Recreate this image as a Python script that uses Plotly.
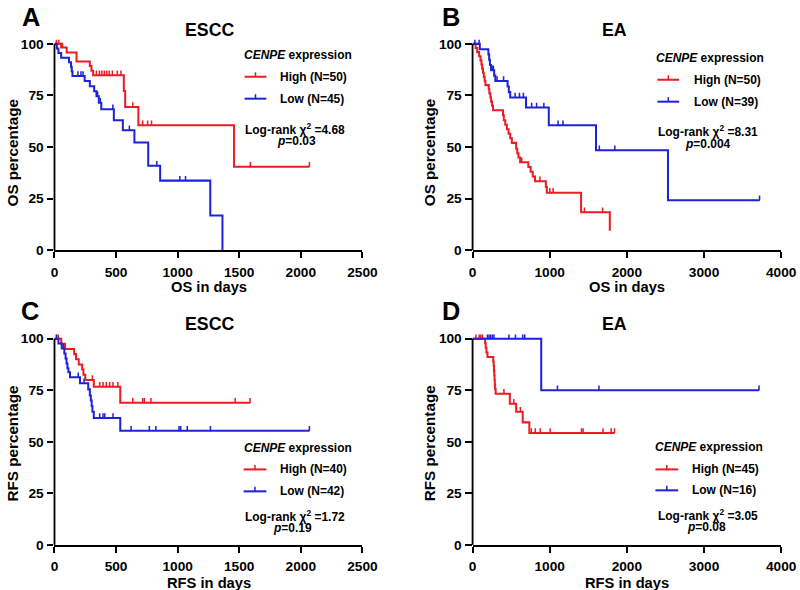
import numpy as np
import plotly.graph_objects as go

RED = '#ec1c24'
BLUE = '#1f23d8'
FONT = 'Liberation Sans, Arial, Helvetica, sans-serif'

# ---------------- data ----------------
# Panel A : ESCC, overall survival
a_hi_t = [0, 54, 99, 179, 287, 300, 314, 563, 574, 681, 1458]
a_hi_s = [100, 98.2, 95.8, 91.5, 89.3, 87.0, 84.8, 77.1, 69.4, 60.6, 40.4]
a_hi_c = [15, 35, 65, 340, 365, 385, 405, 425, 445, 470, 510, 540, 636, 716, 756, 788, 1590, 2070]
a_lo_t = [0, 19, 32, 54, 118, 134, 140, 146, 245, 287, 322, 341, 360, 380, 482, 555, 649, 761, 858, 1265, 1364]
a_lo_s = [100, 97.8, 95.6, 93.3, 91.1, 88.9, 86.7, 84.4, 82.0, 79.5, 77.0, 74.6, 71.5, 68.3, 63.0, 58.1, 52.2, 40.9, 33.7, 16.8, 0]
a_lo_c = [190, 215, 232, 350, 372, 474, 608, 831, 1018, 1064]

# Panel B : EA, overall survival
b_hi_t = [0, 40, 60, 85, 103, 115, 124, 135, 146, 157, 167, 210, 218, 231, 240, 253, 265, 394, 405, 424,
          445, 467, 488, 509, 565, 580, 595, 616, 723, 753, 780, 809, 950, 963, 1407, 1779]
b_hi_s = [100, 98, 96, 94, 92, 90, 88, 86, 84, 82, 80, 78, 76, 74, 72, 70, 67.8, 65.4, 63.0, 60.8,
          58.6, 56.4, 54.2, 52.0, 49.2, 47.0, 44.9, 42.6, 40.3, 38.0, 35.7, 33.4, 30.6, 27.8, 18.4, 9.4]
b_hi_c = [637, 873, 1001, 1044, 1450, 1685]
b_lo_t = [0, 94, 205, 215, 225, 240, 280, 295, 454, 470, 488, 693, 988, 1600, 2533]
b_lo_s = [100, 97.4, 94.9, 92.3, 89.7, 87.2, 84.6, 82.0, 79.3, 76.6, 74.0, 69.2, 60.5, 48.4, 24.2]
b_lo_c = [30, 85, 253, 270, 317, 402, 552, 608, 659, 766, 830, 924, 1108, 1172, 1643, 1844, 3720]

# Panel C : ESCC, relapse-free survival
c_hi_t = [0, 55, 86, 160, 175, 197, 225, 235, 250, 319, 534]
c_hi_s = [100, 97.5, 95.0, 92.5, 90.0, 87.5, 85.0, 82.5, 79.9, 76.7, 68.9]
c_hi_c = [19, 32, 308, 367, 394, 421, 448, 475, 515, 636, 716, 730, 783, 1467, 1588]
c_lo_t = [0, 32, 59, 80, 90, 98, 105, 113, 126, 207, 274, 287, 295, 302, 308, 319, 534]
c_lo_s = [100, 97.6, 95.2, 92.8, 90.4, 88.0, 85.6, 83.7, 81.3, 78.4, 75.4, 72.4, 70.0, 67.3, 64.6, 61.5, 55.3]
c_lo_c = [15, 72, 193, 240, 367, 394, 408, 475, 622, 770, 823, 1011, 1025, 1078, 1266, 2070]

# Panel D : EA, relapse-free survival
d_hi_t = [0, 163, 170, 180, 193, 268, 274, 278, 282, 285, 288, 292, 299, 483, 565, 650, 736]
d_hi_s = [100, 97.8, 95.6, 93.3, 91.1, 88.9, 86.7, 84.4, 82.2, 80.0, 77.8, 75.6, 73.3, 68.4, 64.5, 59.4, 54.2]
d_hi_c = [43, 86, 107, 128, 406, 535, 620, 761, 813, 877, 1005, 1412, 1433, 1690, 1797, 1840]
d_lo_t = [0, 890]
d_lo_s = [100, 75]
d_lo_c = [193, 214, 235, 257, 278, 471, 556, 650, 676, 1100, 1638, 3713]

panel_letters = ['A', 'B', 'C', 'D']
panel_titles = ['ESCC', 'EA', 'ESCC', 'EA']
y_titles = ['OS percentage', 'OS percentage', 'RFS percentage', 'RFS percentage']
x_titles = ['OS in days', 'OS in days', 'RFS in days', 'RFS in days']
x_ticks = [[0, 500, 1000, 1500, 2000, 2500], [0, 1000, 2000, 3000, 4000],
           [0, 500, 1000, 1500, 2000, 2500], [0, 1000, 2000, 3000, 4000]]
y_ticks = [0, 25, 50, 75, 100]
high_labels = ['High (N=50)', 'High (N=50)', 'High (N=40)', 'High (N=45)']
low_labels = ['Low (N=45)', 'Low (N=39)', 'Low (N=42)', 'Low (N=16)']
chi2 = ['4.68', '8.31', '1.72', '3.05']
pvals = ['0.03', '0.004', '0.19', '0.08']

YMAX = 102.0
W, H = 800, 590          # design frame (reference pixels)
K = 1.015                # page-to-picture compensation
FW, FH = round(W * K), round(H * K)

def px(x):
    return x / W

def py(y):
    return 1 - y / H

def s(v):
    return v * K

fig = go.Figure()

panels = [
    (a_hi_t, a_hi_s, a_hi_c, a_lo_t, a_lo_s, a_lo_c),
    (b_hi_t, b_hi_s, b_hi_c, b_lo_t, b_lo_s, b_lo_c),
    (c_hi_t, c_hi_s, c_hi_c, c_lo_t, c_lo_s, c_lo_c),
    (d_hi_t, d_hi_s, d_hi_c, d_lo_t, d_lo_s, d_lo_c),
]


def add_km(times, surv, cens, color, xa, ya):
    times = np.asarray(times, float)
    surv = np.asarray(surv, float)
    end = max(times[-1], max(cens))
    x = np.append(times, end)
    y = np.append(surv, surv[-1])
    fig.add_trace(go.Scatter(x=x, y=y, mode='lines', line=dict(color=color, width=s(2), shape='hv'),
                             xaxis=xa, yaxis=ya, showlegend=False, hoverinfo='skip'))
    c = np.asarray(cens, float)
    idx = np.searchsorted(times, c, side='right') - 1
    cy = surv[idx]
    fig.add_trace(go.Scatter(x=c, y=cy, mode='markers', marker=dict(size=1, color=color),
                             error_y=dict(type='data', symmetric=False, array=[2.3] * len(c),
                                          arrayminus=[0] * len(c), width=0, thickness=s(1.5), color=color),
                             xaxis=xa, yaxis=ya, showlegend=False, hoverinfo='skip', cliponaxis=False))


x_domains = [[51 / W, 362 / W], [473.3 / W, 785 / W], [51 / W, 362 / W], [473.3 / W, 785 / W]]
top_dom = [py(248), py(248 - YMAX * 2.07)]
bot_dom = [py(543.7), py(543.7 - YMAX * 2.069)]
y_domains = [top_dom, top_dom, bot_dom, bot_dom]
x_ranges = [[0, 2500], [0, 4000], [0, 2500], [0, 4000]]

tickfont = dict(family=FONT, size=s(13.5), color='black', weight='bold')
shapes = []
annotations = []

for i, (ht, hs, hc, lt, ls, lc) in enumerate(panels):
    n = '' if i == 0 else str(i + 1)
    xa, ya = 'x' + n, 'y' + n
    add_km(ht, hs, hc, RED, xa, ya)
    add_km(lt, ls, lc, BLUE, xa, ya)
    fig.update_layout({
        'xaxis' + n: dict(domain=x_domains[i], range=x_ranges[i], anchor=ya, tickvals=x_ticks[i],
                          showline=True, linecolor='black', linewidth=s(1.8), ticks='outside', ticklen=s(6),
                          tickwidth=s(1.8), tickcolor='black', tickfont=tickfont, showgrid=False,
                          zeroline=False, ticklabelstandoff=2, fixedrange=True),
        'yaxis' + n: dict(domain=y_domains[i], range=[0, YMAX], anchor=xa, tickvals=y_ticks,
                          showline=False, ticks='outside', ticklen=s(6), tickwidth=s(1.8), tickcolor='black',
                          tickfont=tickfont, showgrid=False, zeroline=False, ticklabelstandoff=1,
                          fixedrange=True),
    })
    # y axis line from 0 to 100 only
    shapes.append(dict(type='line', xref=xa + ' domain', yref=ya + ' domain', x0=0, x1=0, y0=0,
                       y1=100 / YMAX, line=dict(color='black', width=s(1.8))))

# ---------------- text and legends (layout positions) ----------------
letter_pos = [(27, 14), (452, 14.5), (26, 309), (452, 309)]
title_pos = [(208, 27), (617, 27.5), (208, 322.5), (617, 322.5)]
ytitle_pos = [(9, 150), (430, 150), (9, 442), (430, 442)]
xtitle_pos = [(207, 285), (629, 285), (207, 582), (629, 582)]
leg_title = [(240, 52), (657, 55), (240, 447), (656, 446)]
leg_line_x = [(243, 265), (660, 682), (242, 265), (658, 681)]
leg_text_x = [277, 695, 277, 693]
leg_rows = [(74, 96), (77, 99), (468, 490), (468, 489)]
stat_pos = [((294, 126), (295, 138)), ((711, 128), (711, 141)),
            ((294, 515), (291, 527)), ((711, 514), (710, 526))]

for i in range(4):
    annotations.append(dict(text=panel_letters[i], x=px(letter_pos[i][0]), y=py(letter_pos[i][1]),
                            xref='paper', yref='paper', showarrow=False, xanchor='center', yanchor='middle',
                            font=dict(family=FONT, size=s(25), color='black', weight='bold')))
    annotations.append(dict(text=panel_titles[i], x=px(title_pos[i][0]), y=py(title_pos[i][1]),
                            xref='paper', yref='paper', showarrow=False, xanchor='center', yanchor='middle',
                            font=dict(family=FONT, size=s(17.5), color='black', weight='bold')))
    annotations.append(dict(text=y_titles[i], x=px(ytitle_pos[i][0]), y=py(ytitle_pos[i][1]), textangle=-90,
                            xref='paper', yref='paper', showarrow=False, xanchor='center', yanchor='middle',
                            font=dict(family=FONT, size=s(15), color='black', weight='bold')))
    annotations.append(dict(text=x_titles[i], x=px(xtitle_pos[i][0]), y=py(xtitle_pos[i][1]),
                            xref='paper', yref='paper', showarrow=False, xanchor='center', yanchor='middle',
                            font=dict(family=FONT, size=s(14.5), color='black', weight='bold')))
    lf = dict(family=FONT, size=s(11.8), color='black', weight='bold')
    annotations.append(dict(text='<i>CENPE</i> expression', x=px(leg_title[i][0]), y=py(leg_title[i][1]),
                            xref='paper', yref='paper', showarrow=False, xanchor='left', yanchor='middle',
                            font=lf))
    for row, (lab, col) in enumerate([(high_labels[i], RED), (low_labels[i], BLUE)]):
        yy = leg_rows[i][row]
        x0, x1 = leg_line_x[i]
        shapes.append(dict(type='line', xref='paper', yref='paper', x0=px(x0), x1=px(x1), y0=py(yy), y1=py(yy),
                           line=dict(color=col, width=s(2))))
        xm = (x0 + x1) / 2
        shapes.append(dict(type='line', xref='paper', yref='paper', x0=px(xm), x1=px(xm), y0=py(yy),
                           y1=py(yy - 4.5), line=dict(color=col, width=s(1.5))))
        annotations.append(dict(text=lab, x=px(leg_text_x[i]), y=py(yy), xref='paper', yref='paper',
                                showarrow=False, xanchor='left', yanchor='middle', font=lf))
    (sx, sy), (qx, qy) = stat_pos[i]
    annotations.append(dict(text='Log-rank \u03c7<sup>2</sup> =' + chi2[i], x=px(sx), y=py(sy),
                            xref='paper', yref='paper', showarrow=False, xanchor='center', yanchor='middle',
                            font=lf, borderpad=0))
    annotations.append(dict(text='<i>p</i>=' + pvals[i], x=px(qx), y=py(qy),
                            xref='paper', yref='paper', showarrow=False, xanchor='center', yanchor='middle',
                            font=lf, borderpad=0))

fig.update_layout(width=FW, height=FH, margin=dict(l=0, r=0, t=0, b=0), paper_bgcolor='white',
                  plot_bgcolor='white', showlegend=False, shapes=shapes, annotations=annotations,
                  font=dict(family=FONT, color='black'))

fig.write_html('out.html', config={'displayModeBar': False},
               post_script="document.documentElement.style.margin='0';document.body.style.margin='0';"
                           "document.body.style.padding='0';document.documentElement.style.overflow='hidden';")
